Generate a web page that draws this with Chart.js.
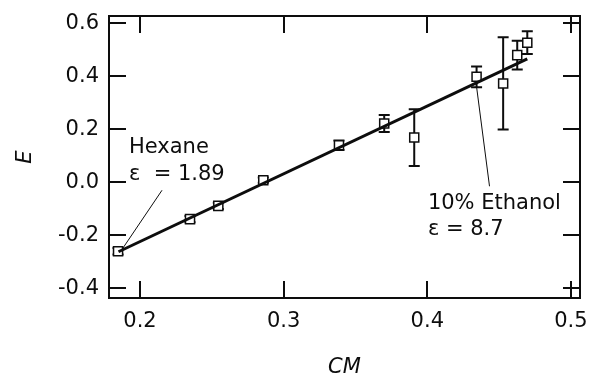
<!DOCTYPE html>
<html>
<head>
<meta charset="utf-8">
<script src="https://cdn.jsdelivr.net/npm/chart.js@4"></script>
<style>
  html, body { margin: 0; padding: 0; background: #fff; }
  canvas { display: block; }
</style>
</head>
<body>
<canvas id="chart" width="589" height="380"></canvas>
<script>
// Measured points: CM (x) against E (y), with symmetric uncertainty in E
const cmValues = [0.1847, 0.2348, 0.2545, 0.2858, 0.3385, 0.3700, 0.3909, 0.4343, 0.4528, 0.4626, 0.4696];
const eValues  = [-0.260, -0.139, -0.089, 0.008, 0.140, 0.222, 0.169, 0.398, 0.373, 0.480, 0.527];
const eErrors  = [0.012, 0.012, 0.012, 0.010, 0.018, 0.032, 0.107, 0.039, 0.174, 0.054, 0.043];

// Straight-line fit through the data (end points)
const fitCM = [0.185, 0.4696];
const fitE  = [-0.262, 0.466];

// Axis tick values
const xTicks = [0.2, 0.3, 0.4, 0.5];
const yTicks = [-0.4, -0.2, 0.0, 0.2, 0.4, 0.6];

// Callout labels (solvent and dielectric constant)
const calloutText   = [['Hexane', 'ε  = 1.89'], ['10% Ethanol', 'ε = 8.7']];
const calloutAnchor = [[0.1923, [0.111, 0.008]], [0.4004, [-0.099, -0.200]]];
const leaderFrom    = [[0.2153, -0.030], [0.4343, 0.360]];
const leaderTo      = [[0.1875, -0.253], [0.4433, -0.015]];

const FONT = '"DejaVu Sans", "Liberation Sans", Arial, sans-serif';
const INK = '#0d0d0d';

const points = cmValues.map((x, i) => ({ x, y: eValues[i] }));
const fitLine = fitCM.map((x, i) => ({ x, y: fitE[i] }));

// Vertical error bars with caps, drawn beneath the markers
const errorBars = {
  id: 'errorBars',
  beforeDatasetsDraw(chart) {
    const { ctx, scales: { x, y } } = chart;
    ctx.save();
    ctx.strokeStyle = INK;
    ctx.lineWidth = 2;
    const cap = 5.5;
    cmValues.forEach((cm, i) => {
      const px = x.getPixelForValue(cm);
      const top = y.getPixelForValue(eValues[i] + eErrors[i]);
      const bot = y.getPixelForValue(eValues[i] - eErrors[i]);
      ctx.beginPath();
      ctx.moveTo(px, top); ctx.lineTo(px, bot);
      ctx.moveTo(px - cap, top); ctx.lineTo(px + cap, top);
      ctx.moveTo(px - cap, bot); ctx.lineTo(px + cap, bot);
      ctx.stroke();
    });
    ctx.restore();
  }
};

// Box frame with inward ticks on all four sides, plus callouts
const frameAndNotes = {
  id: 'frameAndNotes',
  afterDraw(chart) {
    const { ctx, chartArea: a, scales: { x, y } } = chart;
    const L = 17;
    ctx.save();
    ctx.strokeStyle = INK;
    ctx.lineWidth = 2;
    ctx.strokeRect(a.left, a.top, a.right - a.left, a.bottom - a.top);
    ctx.beginPath();
    xTicks.forEach(v => {
      const px = Math.round(x.getPixelForValue(v));
      ctx.moveTo(px, a.bottom); ctx.lineTo(px, a.bottom - L);
      ctx.moveTo(px, a.top); ctx.lineTo(px, a.top + L);
    });
    yTicks.forEach(v => {
      const py = Math.round(y.getPixelForValue(v));
      ctx.moveTo(a.left, py); ctx.lineTo(a.left + L, py);
      ctx.moveTo(a.right, py); ctx.lineTo(a.right - L, py);
    });
    ctx.stroke();

    // leader lines
    ctx.lineWidth = 1;
    ctx.beginPath();
    leaderFrom.forEach((f, i) => {
      const t = leaderTo[i];
      ctx.moveTo(x.getPixelForValue(f[0]), y.getPixelForValue(f[1]));
      ctx.lineTo(x.getPixelForValue(t[0]), y.getPixelForValue(t[1]));
    });
    ctx.stroke();

    // callout text
    ctx.fillStyle = INK;
    ctx.font = '21px ' + FONT;
    ctx.textAlign = 'left';
    ctx.textBaseline = 'alphabetic';
    calloutText.forEach((lines, i) => {
      const [cx, ys] = calloutAnchor[i];
      lines.forEach((txt, j) => {
        ctx.fillText(txt, x.getPixelForValue(cx), y.getPixelForValue(ys[j]));
      });
    });
    ctx.restore();
  }
};

new Chart(document.getElementById('chart'), {
  type: 'scatter',
  data: {
    datasets: [
      {
        label: 'fit',
        type: 'line',
        data: fitLine,
        borderColor: INK,
        borderWidth: 3,
        pointRadius: 0,
        fill: false,
        order: 0
      },
      {
        label: 'E',
        data: points,
        pointStyle: 'rect',
        pointRadius: 6.4,
        pointHoverRadius: 6.4,
        backgroundColor: '#fff',
        borderColor: INK,
        borderWidth: 1.5,
        order: 1
      }
    ]
  },
  options: {
    responsive: false,
    animation: false,
    events: [],
    layout: { padding: { left: 0, top: 16, right: 9, bottom: 0 } },
    plugins: { legend: { display: false }, tooltip: { enabled: false } },
    scales: {
      x: {
        type: 'linear',
        min: 0.1784,
        max: 0.5063,
        afterBuildTicks: s => { s.ticks = xTicks.map(v => ({ value: v })); },
        afterFit: s => { s.height = 82; s.paddingLeft = 0; s.paddingRight = 0; },
        grid: { display: false, drawTicks: false },
        border: { display: false },
        ticks: {
          padding: 11,
          color: INK,
          font: { family: FONT, size: 21 },
          callback: v => v.toFixed(1),
          maxRotation: 0
        },
        title: {
          display: true,
          text: 'CM',
          color: INK,
          font: { family: FONT, size: 21, style: 'italic' },
          padding: { top: 0, bottom: 0 }
        }
      },
      y: {
        type: 'linear',
        min: -0.4366,
        max: 0.6276,
        afterBuildTicks: s => { s.ticks = yTicks.map(v => ({ value: v })); },
        afterFit: s => { s.width = 109; s.paddingTop = 0; s.paddingBottom = 0; },
        grid: { display: false, drawTicks: false },
        border: { display: false },
        ticks: {
          padding: 10,
          color: INK,
          font: { family: FONT, size: 21 },
          callback: v => v.toFixed(1)
        },
        title: {
          display: true,
          text: 'E',
          color: INK,
          font: { family: FONT, size: 21, style: 'italic' },
          padding: { top: 13, bottom: 0 }
        }
      }
    }
  },
  plugins: [errorBars, frameAndNotes]
});
</script>
</body>
</html>
